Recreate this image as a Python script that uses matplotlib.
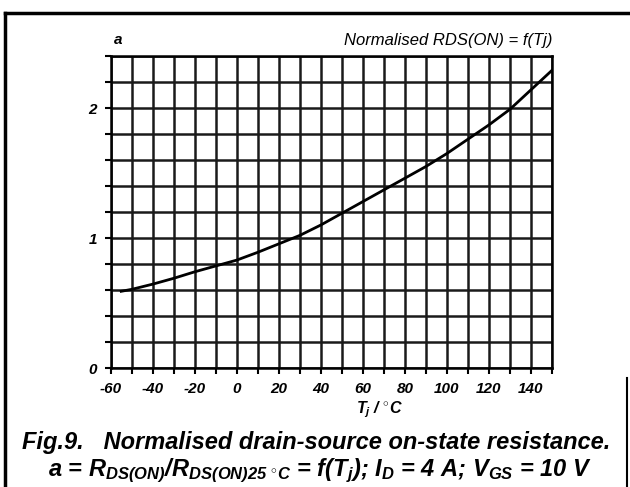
import matplotlib
matplotlib.use("Agg")
import matplotlib.pyplot as plt
from matplotlib.lines import Line2D

# Junction temperature (°C) and normalised on-state resistance a
tj = [-55, -50, -40, -30, -20, -10, 0, 10, 20, 30, 40, 50, 60, 70,
      80, 90, 100, 110, 120, 130, 140, 150]
a_norm = [0.59, 0.605, 0.645, 0.69, 0.74, 0.785, 0.83, 0.89, 0.955, 1.02,
          1.10, 1.19, 1.28, 1.37, 1.46, 1.55, 1.65, 1.76, 1.87, 1.99,
          2.14, 2.29]

x_labels = ["-60", "-40", "-20", "0", "20", "40", "60", "80", "100", "120", "140"]
x_label_pos = [-60, -40, -20, 0, 20, 40, 60, 80, 100, 120, 140]
y_labels = ["0", "1", "2"]
y_label_pos = [0, 1, 2]

plt.rcParams["font.family"] = ["Liberation Sans", "DejaVu Sans"]
plt.rcParams["mathtext.fontset"] = "custom"
plt.rcParams["mathtext.rm"] = "Liberation Sans:italic:bold"
plt.rcParams["mathtext.it"] = "Liberation Sans:italic:bold"
plt.rcParams["mathtext.bf"] = "Liberation Sans:italic:bold"

W, H = 630, 487
fig = plt.figure(figsize=(W / 100, H / 100), dpi=100)
fig.patch.set_facecolor("white")


def fx(px):
    return px / W


def fy(py):
    return 1 - py / H


ax = fig.add_axes([fx(110.7), fy(368), fx(552) - fx(110.7), fy(56) - fy(368)])
ax.set_xlim(-60, 150)
ax.set_ylim(0, 2.4)

# grid: 10 °C by 0.2 divisions
for xv in range(-60, 151, 10):
    ax.axvline(xv, color="#1a1a1a", lw=1.8, zorder=1)
for i in range(13):
    ax.axhline(i * 0.2, color="#1a1a1a", lw=1.8, zorder=1)

ax.plot(tj, a_norm, color="black", lw=2.0, zorder=3)

ax.set_xticks(list(range(-60, 151, 10)))
ax.set_xticklabels([x_labels[x_label_pos.index(v)] if v in x_label_pos else ""
                    for v in range(-60, 151, 10)])
ax.set_yticks([round(i * 0.2, 1) for i in range(13)])
ax.set_yticklabels([y_labels[y_label_pos.index(round(i * 0.2, 1))]
                    if round(i * 0.2, 1) in y_label_pos else "" for i in range(13)])
ax.tick_params(direction="out", length=4, width=1.5, color="black",
               labelsize=11, pad=6)
for lab in ax.get_xticklabels() + ax.get_yticklabels():
    lab.set_fontweight("bold")
    lab.set_fontstyle("italic")

for s in ax.spines.values():
    s.set_linewidth(1.8)
    s.set_color("black")

# axis captions
fig.text(fx(118), fy(40), "a", fontsize=11, fontweight="bold", fontstyle="italic",
         ha="center", va="center")
fig.text(fx(552), fy(40), "Normalised RDS(ON) = f(Tj)", fontsize=12,
         fontstyle="italic", ha="right", va="center")
fig.text(fx(379), fy(410), r"T$_j$ / $^{\circ}$C", fontsize=11.5, fontweight="bold",
         fontstyle="italic", ha="center", va="center")

# figure caption
fig.text(fx(22), fy(443), "Fig.9.   Normalised drain-source on-state resistance.",
         fontsize=17, fontweight="bold", fontstyle="italic", ha="left", va="center")
fig.text(fx(48), fy(471),
         r"a = R$_{DS(ON)}$/R$_{DS(ON)25\ ^{\circ}C}$ = f(T$_j$); I$_D$ = 4 A; V$_{GS}$ = 10 V",
         fontsize=17, fontweight="bold", fontstyle="italic", ha="left", va="center")

# frame around the figure
fig.add_artist(Line2D([fx(5), fx(630)], [fy(13), fy(13)], color="black", lw=2.5))
fig.add_artist(Line2D([fx(5), fx(5)], [fy(13), fy(487)], color="black", lw=2.5))
fig.add_artist(Line2D([fx(627), fx(627)], [fy(378), fy(487)], color="black", lw=1.5))

fig.savefig("out.png", dpi=100, facecolor="white")
